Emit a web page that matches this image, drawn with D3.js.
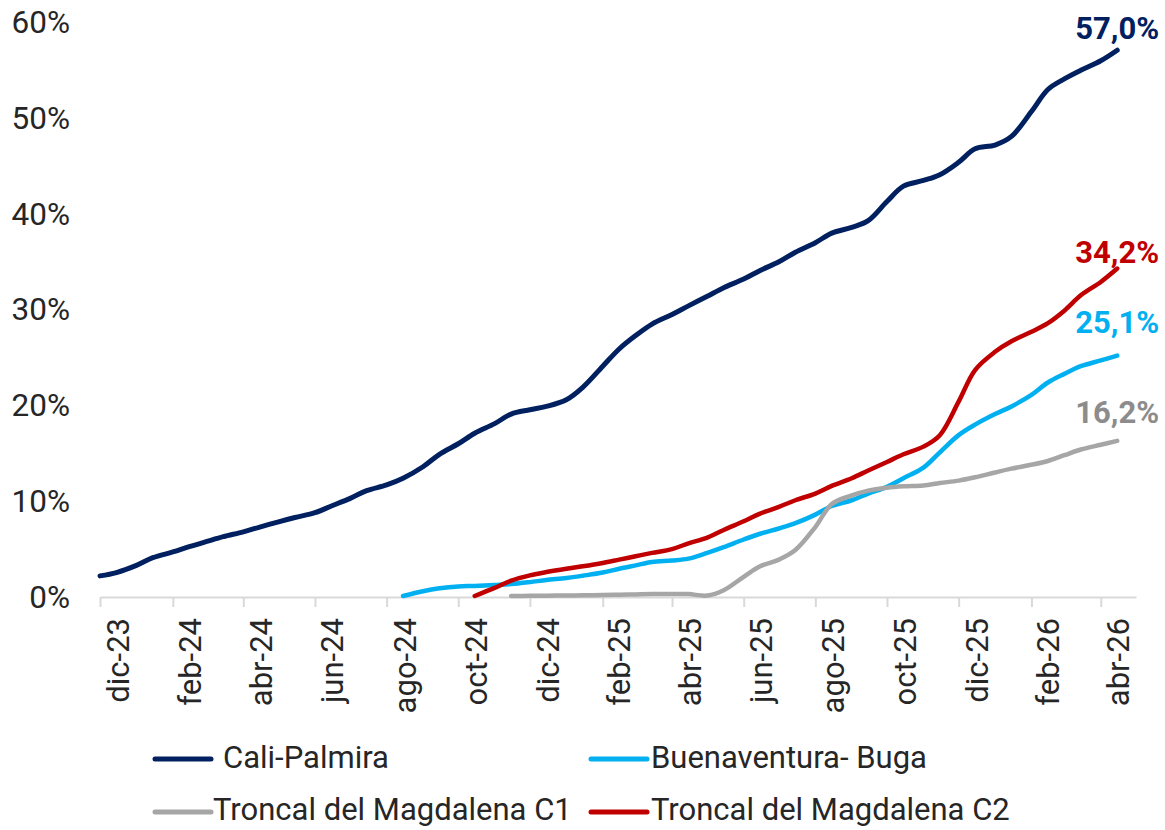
<!DOCTYPE html>
<html>
<head>
<meta charset="utf-8">
<script src="https://cdn.jsdelivr.net/npm/d3@7"></script>
<style>
  html, body { margin: 0; padding: 0; background: #ffffff; }
  svg { display: block; }
</style>
</head>
<body>
<svg id="chart" width="1165" height="830"></svg>
<script>
// ---------- DATA ----------
const dates = [
  "2023-12-01","2023-12-15","2024-01-01","2024-01-15","2024-02-01","2024-02-15",
  "2024-03-01","2024-03-15","2024-04-01","2024-04-15","2024-05-01","2024-05-15",
  "2024-06-01","2024-06-15","2024-07-01","2024-07-15","2024-08-01","2024-08-15",
  "2024-09-01","2024-09-15","2024-10-01","2024-10-15","2024-11-01","2024-11-15",
  "2024-12-01","2024-12-15","2025-01-01","2025-01-15","2025-02-01","2025-02-15",
  "2025-03-01","2025-03-15","2025-04-01","2025-04-15","2025-05-01","2025-05-15",
  "2025-06-01","2025-06-15","2025-07-01","2025-07-15","2025-08-01","2025-08-15",
  "2025-09-01","2025-09-15","2025-10-01","2025-10-15","2025-11-01","2025-11-15",
  "2025-12-01","2025-12-15","2026-01-01","2026-01-15","2026-02-01","2026-02-15",
  "2026-03-01","2026-03-15","2026-04-01","2026-04-15"
];

const seriesNames = ["Cali-Palmira", "Buenaventura- Buga", "Troncal del Magdalena C1", "Troncal del Magdalena C2"];

const caliPalmira = [
  2.1, 2.45, 3.2, 4.0, 4.6, 5.15, 5.7, 6.2, 6.7, 7.2, 7.75, 8.2,
  8.7, 9.4, 10.2, 11.0, 11.6, 12.3, 13.5, 14.8, 15.9, 17.0, 18.0, 19.0,
  19.45, 19.8, 20.5, 21.8, 24.0, 25.8, 27.2, 28.4, 29.4, 30.3, 31.3, 32.2,
  33.1, 34.0, 34.9, 35.9, 36.9, 37.9, 38.5, 39.2, 41.2, 42.8, 43.4, 44.0,
  45.3, 46.7, 47.1, 48.0, 50.6, 52.9, 54.0, 54.9, 55.9, 57.0
];

const buenaventuraBuga = [
  null, null, null, null, null, null, null, null, null, null, null, null,
  null, null, null, null, null, 0.0, 0.5, 0.8, 1.0, 1.05, 1.15, 1.24,
  1.45, 1.67, 1.88, 2.12, 2.45, 2.85, 3.2, 3.55, 3.7, 3.9, 4.5, 5.1,
  5.9, 6.5, 7.05, 7.6, 8.5, 9.4, 10.0, 10.7, 11.4, 12.3, 13.4, 15.0,
  16.8, 17.9, 19.0, 19.8, 21.0, 22.3, 23.2, 24.0, 24.6, 25.1
];

const troncalC1 = [
  null, null, null, null, null, null, null, null, null, null, null, null,
  null, null, null, null, null, null, null, null, null, null, null, 0.0,
  0.02, 0.03, 0.05, 0.07, 0.1, 0.13, 0.16, 0.2, 0.22, 0.2, 0.05, 0.6,
  2.0, 3.1, 3.8, 4.8, 7.2, 9.6, 10.5, 11.0, 11.3, 11.45, 11.55, 11.8,
  12.05, 12.4, 12.9, 13.3, 13.7, 14.1, 14.7, 15.3, 15.8, 16.2
];

const troncalC2 = [
  null, null, null, null, null, null, null, null, null, null, null, null,
  null, null, null, null, null, null, null, null, null, 0.0, 0.85, 1.6,
  2.15, 2.5, 2.85, 3.1, 3.45, 3.8, 4.15, 4.5, 4.9, 5.5, 6.1, 6.9,
  7.8, 8.6, 9.3, 10.0, 10.7, 11.5, 12.3, 13.1, 14.0, 14.8, 15.6, 16.8,
  20.3, 23.6, 25.5, 26.6, 27.6, 28.5, 29.8, 31.4, 32.8, 34.2
];

const endLabels = ["57,0%", "25,1%", "16,2%", "34,2%"];

const xTickDates = [
  "2023-12-01","2024-02-01","2024-04-01","2024-06-01","2024-08-01","2024-10-01",
  "2024-12-01","2025-02-01","2025-04-01","2025-06-01","2025-08-01","2025-10-01",
  "2025-12-01","2026-02-01","2026-04-01"
];
const xTickLabels = [
  "dic-23","feb-24","abr-24","jun-24","ago-24","oct-24","dic-24","feb-25",
  "abr-25","jun-25","ago-25","oct-25","dic-25","feb-26","abr-26"
];
const yTicks = [0, 10, 20, 30, 40, 50, 60];
const yTickLabels = ["0%", "10%", "20%", "30%", "40%", "50%", "60%"];

// ---------- STYLE / LAYOUT ----------
const colors = ["#002060", "#00B0F0", "#A6A6A6", "#C00000"];
const labelColors = ["#002060", "#00B0F0", "#8C8C8C", "#C00000"];
const strokeW = [5, 4.5, 4.5, 4.5];
const labelDy = [-11, -23, -18, -6];
const FONT = "Roboto, 'Open Sans', Arial, sans-serif";
const textColor = "#262626";

const parse = d3.utcParse("%Y-%m-%d");
const dateObjs = dates.map(parse);

const svg = d3.select("#chart");

const x = d3.scaleUtc()
  .domain([parse("2023-12-01"), parse("2026-05-01")])
  .range([100, 1136]);
const y = d3.scaleLinear().domain([0, 60]).range([596, 21.5]);

// y axis labels (no axis line)
const yAxis = d3.axisLeft(y)
  .tickValues(yTicks)
  .tickFormat((d, i) => yTickLabels[i])
  .tickSize(0)
  .tickPadding(0);
const gy = svg.append("g").attr("transform", "translate(70,0)").call(yAxis);
gy.select(".domain").remove();
gy.selectAll("text")
  .attr("font-family", FONT)
  .attr("font-size", 31.5)
  .attr("fill", textColor)
  .attr("dy", "0.35em");

// x axis
const xAxis = d3.axisBottom(x)
  .tickValues(xTickDates.map(parse))
  .tickFormat("")
  .tickSize(10)
  .tickSizeOuter(0);
const gx = svg.append("g").attr("transform", "translate(0,597)").call(xAxis);
gx.select(".domain").attr("stroke", "#D9D9D9").attr("stroke-width", 2);
gx.selectAll(".tick line").attr("stroke", "#D9D9D9").attr("stroke-width", 2);

// x labels centered in the month interval, rotated
const gxl = svg.append("g");
xTickDates.forEach((ds, i) => {
  const d0 = parse(ds);
  const d1 = d3.utcMonth.offset(d0, 1);
  const cx = (x(d0) + x(d1)) / 2;
  gxl.append("text")
    .attr("transform", `translate(${cx},618) rotate(-90)`)
    .attr("text-anchor", "end")
    .attr("dy", "0.35em")
    .attr("font-family", FONT)
    .attr("font-size", 31)
    .attr("fill", textColor)
    .text(xTickLabels[i]);
});

// lines
const allSeries = [caliPalmira, buenaventuraBuga, troncalC1, troncalC2];
const line = d3.line()
  .defined(d => d.v !== null)
  .x(d => x(d.date))
  .y(d => y(d.v))
  .curve(d3.curveCatmullRom.alpha(0.5));

allSeries.forEach((vals, s) => {
  const pts = vals.map((v, i) => ({ date: dateObjs[i], v }));
  svg.append("path")
    .datum(pts)
    .attr("fill", "none")
    .attr("stroke", colors[s])
    .attr("stroke-width", strokeW[s])
    .attr("stroke-linecap", "round")
    .attr("stroke-linejoin", "round")
    .attr("d", line);
});

// end labels
allSeries.forEach((vals, s) => {
  const last = vals.length - 1;
  svg.append("text")
    .attr("x", x(dateObjs[last]))
    .attr("y", y(vals[last]) + labelDy[s])
    .attr("text-anchor", "middle")
    .attr("font-family", FONT)
    .attr("font-weight", "bold")
    .attr("font-size", 31)
    .attr("fill", labelColors[s])
    .text(endLabels[s]);
});

// legend
const legendItems = [
  { s: 0, x1: 155, x2: 211, sy: 759, tx: 223, ty: 768 },
  { s: 1, x1: 591, x2: 647, sy: 759, tx: 651, ty: 768 },
  { s: 2, x1: 155, x2: 211, sy: 812, tx: 213, ty: 820 },
  { s: 3, x1: 591, x2: 647, sy: 812, tx: 651, ty: 820 }
];
const lg = svg.append("g");
legendItems.forEach(it => {
  lg.append("line")
    .attr("x1", it.x1).attr("x2", it.x2)
    .attr("y1", it.sy).attr("y2", it.sy)
    .attr("stroke", colors[it.s])
    .attr("stroke-width", 5)
    .attr("stroke-linecap", "round");
  lg.append("text")
    .attr("x", it.tx)
    .attr("y", it.ty)
    .attr("font-family", FONT)
    .attr("font-size", 31)
    .attr("fill", textColor)
    .text(seriesNames[it.s]);
});
</script>
</body>
</html>
